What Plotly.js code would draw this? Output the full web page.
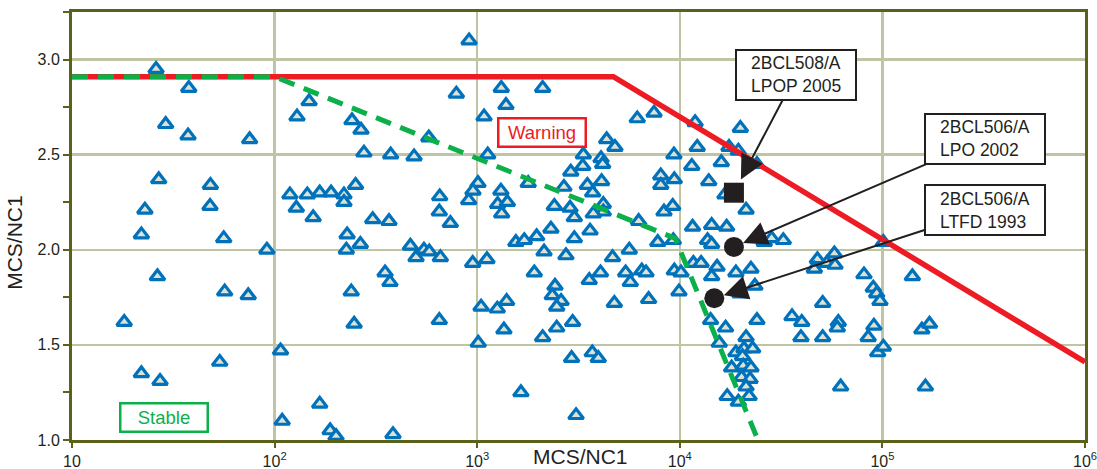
<!DOCTYPE html>
<html>
<head>
<meta charset="utf-8">
<script src="https://cdn.plot.ly/plotly-3.0.1.min.js"></script>
<style>html,body{margin:0;padding:0;background:#fff}#chart{width:1097px;height:469px}</style>
</head>
<body>
<div id="chart"></div>
<script>
// Population of triangles (MCS/NC1 on x, MCS/NC1 on y)
const triX = [
  26.0, 37.7, 29.0, 37.4, 75.3, 26.8, 48.2, 22.9, 48.0, 22.0, 56.1, 91.6, 26.4, 56.7, 74.1, 18.1, 53.6, 22.0, 27.2,
  912, 789, 148, 129, 241, 267, 577, 276, 374, 488, 251, 119, 145, 167, 190, 220, 220, 128, 155, 305, 367, 653, 650, 737, 908, 1009, 953, 228, 226, 265, 468, 499, 546, 580, 658, 950, 351, 371, 239, 247, 650, 107, 167, 109, 188, 201, 384,
  1315, 2104, 1387, 1081, 6166, 7464, 4355, 4786, 1127, 3342, 4085, 4161, 9354, 3319, 2897, 1786, 1309, 2679, 3497, 4111, 3715, 8054, 9397, 8054, 1262, 1409, 1321, 2403, 2873, 3016, 4191, 4191, 3741, 6266, 8356, 9226, 2312, 3606, 3016, 1965, 1552, 1708, 7783, 9290, 2138, 2742, 1117, 4656, 5632, 1914, 4060, 3573, 5403, 5697, 6492, 6813, 9397, 9906, 2421, 2348, 2595, 2469, 1397, 1256, 1045, 4753, 7015, 2958, 2469, 1355, 2104, 1012, 2924, 3698, 3959, 1644, 3076,
  11900, 19900, 12190, 17490, 19450, 11460, 16030, 13900, 21240, 16700, 11560, 14360, 17030, 13710, 14360, 26120, 28390, 32430, 11670, 12740, 10140, 15270, 14360, 18920, 22450, 23480, 19820, 47780, 46150, 53130, 57920, 58370, 81100, 50720, 35800, 39990, 24030, 16830, 14190, 15660, 21240, 39630, 50720, 60590, 59900, 90770, 85110, 94810, 18920, 20740, 22890, 20400, 18020, 20560, 22450, 20180, 22220, 21240, 17140, 19450, 21980, 62230, 24030,
  101100, 140600, 90140, 93720, 97280, 101100, 156600, 170800, 163000
];
const triY = [
  2.95, 2.85, 2.66, 2.60, 2.58, 2.37, 2.34, 2.21, 2.23, 2.08, 2.06, 2.00, 1.86, 1.78, 1.76, 1.62, 1.41, 1.35, 1.31,
  3.10, 2.82, 2.78, 2.70, 2.68, 2.63, 2.59, 2.51, 2.50, 2.49, 2.34, 2.29, 2.29, 2.30, 2.30, 2.29, 2.25, 2.22, 2.17, 2.16, 2.15, 2.28, 2.20, 2.14, 2.26, 2.35, 2.31, 2.08, 2.00, 2.03, 2.02, 1.96, 2.00, 1.99, 1.96, 1.93, 1.88, 1.83, 1.78, 1.61, 1.63, 1.47, 1.19, 1.10, 1.05, 1.02, 1.03,
  2.85, 2.85, 2.76, 2.70, 2.69, 2.72, 2.58, 2.54, 2.50, 2.50, 2.48, 2.45, 2.50, 2.44, 2.41, 2.35, 2.31, 2.33, 2.34, 2.36, 2.30, 2.39, 2.37, 2.34, 2.24, 2.25, 2.19, 2.23, 2.22, 2.17, 2.24, 2.20, 2.19, 2.15, 2.20, 2.23, 2.11, 2.10, 2.06, 2.07, 2.04, 2.05, 2.04, 2.05, 1.99, 1.97, 1.95, 1.96, 2.00, 1.88, 1.88, 1.84, 1.88, 1.83, 1.89, 1.88, 1.89, 1.78, 1.81, 1.76, 1.73, 1.70, 1.73, 1.69, 1.70, 1.72, 1.74, 1.62, 1.59, 1.58, 1.54, 1.51, 1.43, 1.46, 1.43, 1.25, 1.13,
  2.67, 2.64, 2.54, 2.54, 2.52, 2.44, 2.46, 2.36, 2.21, 2.29, 2.12, 2.13, 2.12, 2.05, 2.03, 2.04, 2.06, 2.05, 1.93, 1.93, 1.88, 1.91, 1.86, 1.88, 1.90, 1.81, 1.77, 1.95, 1.90, 1.93, 1.98, 1.92, 1.87, 1.72, 1.65, 1.62, 1.63, 1.59, 1.63, 1.51, 1.54, 1.54, 1.54, 1.62, 1.59, 1.60, 1.54, 1.46, 1.46, 1.48, 1.48, 1.44, 1.38, 1.39, 1.38, 1.33, 1.32, 1.28, 1.23, 1.20, 1.23, 1.28, 2.45,
  2.04, 1.86, 1.80, 1.77, 1.73, 1.49, 1.58, 1.61, 1.28
];

// Warning boundary (red) and stable boundary (green dashed)
const warnX = [10, 4700, 1000000];
const warnY = [2.91, 2.91, 1.41];
const stableX = [10, 100, 9500, 24300];
const stableY = [2.91, 2.91, 2.06, 1.0];

// Highlighted cases
const caseNames = ['2BCL508/A<br>LPOP 2005', '2BCL506/A<br>LPO 2002', '2BCL506/A<br>LTFD 1993'];
const caseX = [18500, 18500, 14800];
const caseY = [2.30, 2.015, 1.745];
const caseSymbols = ['square', 'circle', 'circle'];

// Region labels
const regionLabels = ['Warning', 'Stable'];

// Axis ticks
const xTickVals = [10, 100, 1000, 10000, 100000, 1000000];
const xTickText = ['10', '10<sup>2</sup>', '10<sup>3</sup>', '10<sup>4</sup>', '10<sup>5</sup>', '10<sup>6</sup>'];
const yTickVals = [1.0, 1.5, 2.0, 2.5, 3.0];
const yTickText = ['1.0', '1.5', '2.0', '2.5', '3.0'];
const axisTitle = 'MCS/NC1';

const OLIVE = '#5b6118';
const GRID = '#bfc4a3';
const RED = '#ed1c24';
const GREEN = '#0cb04a';
const BLUE = '#0072bc';
const INK = '#231f20';
const FONT = '"Liberation Sans", Arial, Helvetica, sans-serif';

const traces = [
  {
    x: triX, y: triY, type: 'scatter', mode: 'markers',
    marker: {symbol: 'triangle-up', size: 13, color: '#dde2d5', opacity: 1, line: {color: BLUE, width: 3.2}},
    hoverinfo: 'skip'
  },
  {
    x: warnX, y: warnY, type: 'scatter', mode: 'lines',
    line: {color: RED, width: 5.5}, hoverinfo: 'skip'
  },
  {
    x: stableX, y: stableY, type: 'scatter', mode: 'lines',
    line: {color: GREEN, width: 5, dash: '16px,10px'}, hoverinfo: 'skip'
  },
  {
    x: caseX, y: caseY, type: 'scatter', mode: 'markers',
    marker: {symbol: caseSymbols, size: [20, 20, 20], color: INK, opacity: 1, line: {width: 0}},
    hoverinfo: 'skip'
  }
];

const boxOff = [[62, -118], [251, -108], [271, -88]];
const standoffs = [15, 10, 10];

const annotations = [];
caseNames.forEach((t, i) => {
  annotations.push({
    x: Math.log10(caseX[i]), y: caseY[i], xref: 'x', yref: 'y',
    text: ' ', showarrow: true, ax: boxOff[i][0], ay: boxOff[i][1],
    arrowhead: 2, arrowsize: 2.4, arrowwidth: 2, arrowcolor: INK, standoff: standoffs[i],
    bordercolor: INK, borderwidth: 2, borderpad: 1, bgcolor: '#fff', width: 116, height: 46
  });
  annotations.push({
    x: Math.log10(caseX[i]), y: caseY[i], xref: 'x', yref: 'y',
    text: t, showarrow: false, xshift: boxOff[i][0], yshift: -boxOff[i][1],
    xanchor: 'center', yanchor: 'middle', align: 'left',
    font: {family: FONT, size: 17.5, color: INK}
  });
});
annotations.push({
  xref: 'paper', yref: 'paper', x: 0.4637, y: 0.7173, xanchor: 'center', yanchor: 'middle',
  text: regionLabels[0], showarrow: false, font: {family: FONT, size: 18.5, color: RED},
  bordercolor: RED, borderwidth: 2.5, borderpad: 2.5, bgcolor: '#fff', width: 80, align: 'center'
});
annotations.push({
  xref: 'paper', yref: 'paper', x: 0.0905, y: 0.0533, xanchor: 'center', yanchor: 'middle',
  text: regionLabels[1], showarrow: false, font: {family: FONT, size: 18.5, color: GREEN},
  bordercolor: GREEN, borderwidth: 2.5, borderpad: 2.5, bgcolor: '#fff', width: 80, align: 'center'
});
annotations.push({
  xref: 'paper', yref: 'paper', x: 0.5015, y: -0.0678, xanchor: 'center', yanchor: 'bottom',
  text: axisTitle, showarrow: false, font: {family: FONT, size: 21, color: INK}, borderpad: 0
});
annotations.push({
  xref: 'paper', yref: 'paper', x: -0.0563, y: 0.463, xanchor: 'center', yanchor: 'middle',
  text: axisTitle, textangle: -90, showarrow: false, font: {family: FONT, size: 21, color: INK}
});

const layout = {
  width: 1097, height: 469,
  margin: {l: 72, r: 12, t: 12, b: 29, pad: 0},
  paper_bgcolor: '#fff', plot_bgcolor: '#fff',
  showlegend: false,
  font: {family: FONT, color: INK, size: 16},
  xaxis: {
    type: 'log', range: [1, 6],
    tickmode: 'array', tickvals: xTickVals, ticktext: xTickText,
    ticks: 'outside', ticklen: 5, tickwidth: 2, tickcolor: OLIVE,
    ticklabeloverflow: 'allow',
    showline: true, linecolor: OLIVE, linewidth: 3, mirror: true,
    showgrid: true, gridcolor: GRID, gridwidth: 2.5, zeroline: false,
    tickfont: {family: FONT, size: 16, color: INK}
  },
  yaxis: {
    range: [1, 3.25],
    tickmode: 'array', tickvals: yTickVals, ticktext: yTickText,
    ticks: 'outside', ticklen: 6, tickwidth: 2, tickcolor: OLIVE,
    minor: {tickmode: 'linear', tick0: 1, dtick: 0.25, ticks: 'outside', ticklen: 6, tickwidth: 2, tickcolor: OLIVE, showgrid: false},
    showline: true, linecolor: OLIVE, linewidth: 3, mirror: true,
    showgrid: true, gridcolor: GRID, gridwidth: 2.5, zeroline: false,
    tickfont: {family: FONT, size: 16, color: INK}
  },
  annotations: annotations
};

Plotly.newPlot('chart', traces, layout, {staticPlot: true, displayModeBar: false});
</script>
</body>
</html>
